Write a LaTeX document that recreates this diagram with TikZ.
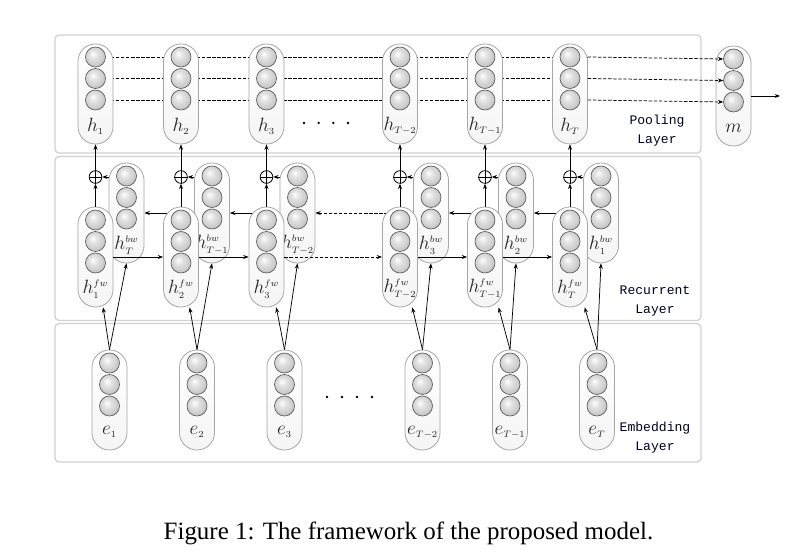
\documentclass[tikz,border=0pt]{standalone}
\usepackage{fontspec}
\setmainfont{Liberation Serif}
\newfontfamily\monof{Liberation Mono}
\usetikzlibrary{arrows.meta,calc}
\pgfdeclarelayer{back}
\pgfsetlayers{back,main}
\pgfdeclareradialshading{neuronshade}{\pgfpoint{-7bp}{8bp}}{%
  color(0bp)=(white); color(10bp)=(gray!22); color(22bp)=(gray!38);
  color(32bp)=(gray!55); color(50bp)=(gray!60)}
\tikzset{
  capsulebox/.style={draw=gray!70, line width=0.6pt, top color=white, bottom color=gray!8,
    rounded corners=13pt, minimum width=26.25pt, minimum height=75pt, inner sep=0pt},
  neuron/.style={circle, draw=gray!70!black, line width=0.5pt, shading=neuronshade,
    minimum size=15pt, inner sep=0pt},
  lbl/.style={font=\fontsize{14}{16}\selectfont, text=black!85, inner sep=0pt},
  layerbox/.style={draw=gray!35, line width=1pt, rounded corners=3pt},
  layertxt/.style={font=\monof\fontsize{9.8}{14}\selectfont, align=center, text=black!85!blue, inner sep=0pt},
  arr/.style={-{Stealth[length=4pt,width=3pt]}, line width=0.55pt},
  dline/.style={dash pattern=on 2.5pt off 1.3pt, line width=0.7pt},
  plusnode/.style={circle, draw, line width=0.6pt, minimum size=9.5pt, inner sep=0pt},
}
\newcommand\capsule[4]{%
  \node[capsulebox] (#1) at (#2,#3+50) {};
  \node[neuron] (#1-1) at (#2,#3+13) {};
  \node[neuron] (#1-2) at (#2,#3+34.5) {};
  \node[neuron] (#1-3) at (#2,#3+56) {};
  \node[lbl] (#1-l) at (#2,#3+82) {#4};
}
\begin{document}
\begin{tikzpicture}[x=0.75pt,y=-0.75pt]
\useasboundingbox (0,0) rectangle (803,555);
\begin{pgfonlayer}{back}
  \fill[white] (0,0) rectangle (803,555);
  \draw[layerbox] (55,35) rectangle (701,153);
  \draw[layerbox] (55,156.5) rectangle (701,320.5);
  \draw[layerbox] (55,323.5) rectangle (701,462);
\end{pgfonlayer}

% pooling layer
\foreach \i/\x/\s in {1/95.5/1, 2/181/2, 3/266.5/3, 4/400/T-2, 5/485/T-1, 6/570/T} {
  \capsule{h\i}{\x}{44}{$h_{\scriptscriptstyle \s}$}
}
\capsule{m}{733.5}{46}{$m$}

% backward states
\foreach \i/\x/\s in {1/95.5/T, 2/181/T-1, 3/266.5/T-2, 4/400/3, 5/485/2, 6/570/1} {
  \capsule{b\i}{\x+31}{163}{$h^{\scriptscriptstyle bw}_{\scriptscriptstyle \s}$}
}
% forward states
\foreach \i/\x/\s in {1/95.5/1, 2/181/2, 3/266.5/3, 4/400/T-2, 5/485/T-1, 6/570/T} {
  \capsule{f\i}{\x}{207}{$h^{\scriptscriptstyle fw}_{\scriptscriptstyle \s}$}
}
% embeddings
\foreach \i/\x/\s in {1/109.5/1, 2/197/2, 3/284.5/3, 4/422.5/T-2, 5/510/T-1, 6/597/T} {
  \capsule{e\i}{\x}{350}{$e_{\scriptscriptstyle \s}$}
}

% layer names
\node[layertxt] (tpool) at (657,130.5) {Pooling\\Layer};
\node[layertxt] (trec) at (655,301) {Recurrent\\Layer};
\node[layertxt] (temb) at (655,437.5) {Embedding\\Layer};

% dots
\foreach \x in {304,318.7,333.3,348} \fill (\x,123) circle (1.3);
\foreach \x in {327,342,357,372} \fill (\x,397) circle (1.3);

% lines behind capsules
\begin{pgfonlayer}{back}
  \foreach \k in {1,2,3} \draw[dline] (h1-\k.east) -- (h6.east |- h6-\k);
  \draw[arr] (b6.west) -- (b5.east);
  \draw[arr] (b5.west) -- (b4.east);
  \draw[arr,dline] (b4.west) -- (b3.east);
  \draw[arr] (b3.west) -- (b2.east);
  \draw[arr] (b2.west) -- (b1.east);
\end{pgfonlayer}

% pooling to m
\foreach \k in {1,2,3} \draw[dline,arr] (h6.east |- h6-\k) -- (m-\k.west);
\coordinate (out) at (780,96);
\draw[arr] (m.east) -- (out);

% forward arrows
\draw[arr] (f1.east) -- (f2.west);
\draw[arr] (f2.east) -- (f3.west);
\draw[arr,dline] (f3.east) -- (f4.west);
\draw[arr] (f4.east) -- (f5.west);
\draw[arr] (f5.east) -- (f6.west);

% combination nodes
\foreach \i/\x in {1/95.5, 2/181, 3/266.5, 4/400, 5/485, 6/570} {
  \node[plusnode] (p\i) at (\x,177) {};
  \draw[line width=0.6pt] (p\i.north) -- (p\i.south) (p\i.west) -- (p\i.east);
  \draw[arr] (f\i.north) -- (p\i.south);
  \draw[arr] (p\i -| b\i.west) -- (p\i.east);
  \draw[arr] (p\i.north) -- (h\i.south);
  \draw[arr] (e\i.north) -- (f\i);
  \draw[arr] (e\i.north) -- (b\i.south);
}

% caption
\node[font=\fontsize{18.7}{22}\selectfont, anchor=base, inner sep=0pt] (cap) at (408.5,539)
  {Figure 1: The framework of the proposed model.};
\end{tikzpicture}
\end{document}
